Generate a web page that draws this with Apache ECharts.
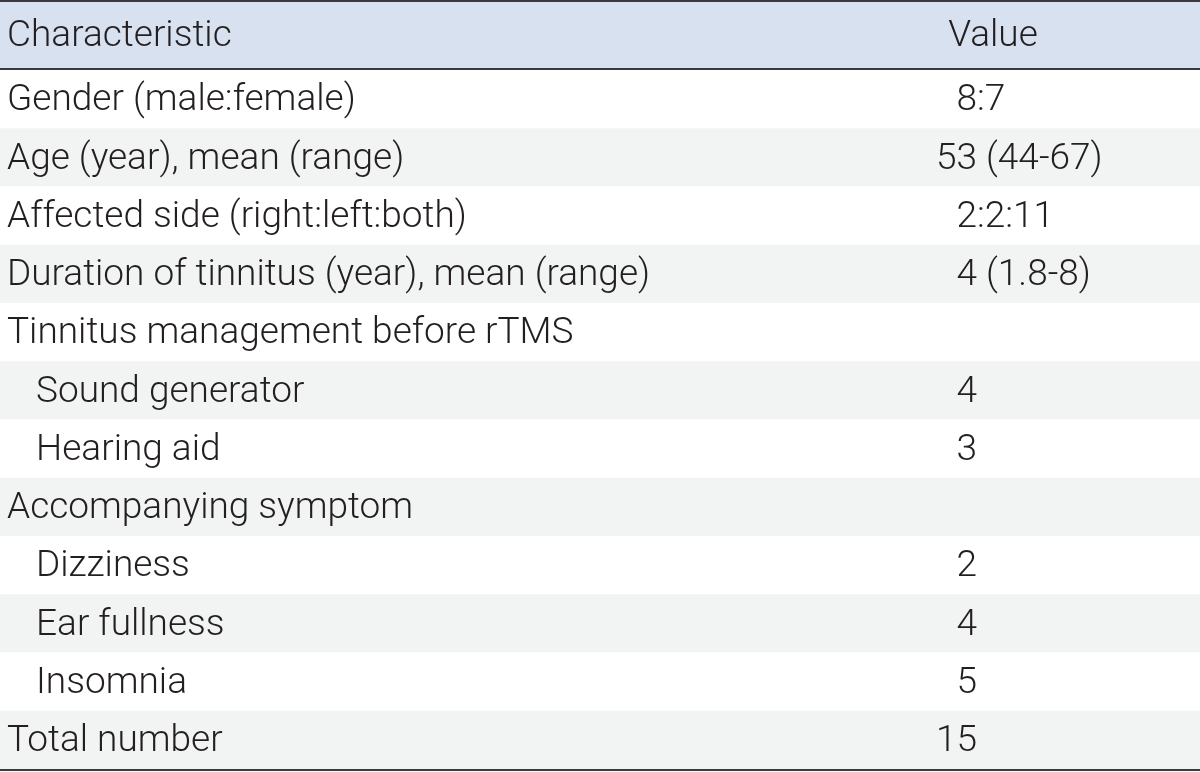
<!DOCTYPE html>
<html>
<head>
<meta charset="utf-8">
<script src="https://cdn.jsdelivr.net/npm/echarts@6/dist/echarts.min.js"></script>
<style>
  html, body { margin: 0; padding: 0; background: #ffffff; }
  #chart { width: 1200px; height: 772px; }
</style>
</head>
<body>
<div id="chart"></div>
<script>
// ---- Table content ----
const headers = ['Characteristic', 'Value'];
const categories = [
  'Gender (male:female)',
  'Age (year), mean (range)',
  'Affected side (right:left:both)',
  'Duration of tinnitus (year), mean (range)',
  'Tinnitus management before rTMS',
  'Sound generator',
  'Hearing aid',
  'Accompanying symptom',
  'Dizziness',
  'Ear fullness',
  'Insomnia',
  'Total number'
];
const values = ['8:7', '53 (44-67)', '2:2:11', '4 (1.8-8)', '', '4', '3', '', '2', '4', '5', '15'];
const indentLevels = [0, 0, 0, 0, 0, 1, 1, 0, 1, 1, 1, 0];

// ---- Styling / layout constants ----
const FONT_FAMILY = 'Roboto, "Liberation Sans", sans-serif';
const FONT_SIZE = 37;
const FONT_WEIGHT = 300;
const TEXT_COLOR = '#231f20';
const HEADER_BG = '#d8e1f0';
const STRIPE_BG = '#f2f3f3';
const RULE_COLOR = '#3a3a3a';
const LABEL_X = 7;
const INDENT_W = 29;
const VALUE_ANCHOR_X = 977;   // right edge of the leading number in the value column
const HEADER_VALUE_CX = 993;
const TEXT_DY = 2;

// measure the leading integer of a value so numbers align on their first figure group
const measureCtx = document.createElement('canvas').getContext('2d');
measureCtx.font = FONT_WEIGHT + ' ' + FONT_SIZE + 'px ' + FONT_FAMILY;
function leadWidth(s) {
  const m = /^\d+/.exec(s);
  return m ? measureCtx.measureText(m[0]).width : 0;
}

const chart = echarts.init(document.getElementById('chart'), null, { renderer: 'canvas' });

function textStyle(extra) {
  return Object.assign({
    fill: TEXT_COLOR,
    fontSize: FONT_SIZE,
    fontFamily: FONT_FAMILY,
    fontWeight: FONT_WEIGHT,
    textVerticalAlign: 'middle'
  }, extra);
}

const option = {
  animation: false,
  backgroundColor: '#ffffff',
  grid: [
    { left: 0, right: 0, top: 2, height: 66 },
    { left: 0, right: 0, top: 70, height: 699 }
  ],
  xAxis: [
    { type: 'value', min: 0, max: 1200, show: false, gridIndex: 0 },
    { type: 'value', min: 0, max: 1200, show: false, gridIndex: 1 }
  ],
  yAxis: [
    { type: 'category', data: ['header'], show: false, gridIndex: 0 },
    { type: 'category', data: categories, inverse: true, show: false, gridIndex: 1 }
  ],
  series: [
    {
      type: 'custom',
      xAxisIndex: 0,
      yAxisIndex: 0,
      data: [[0, 0]],
      renderItem: function (params, api) {
        const c = api.coord([0, 0]);
        const h = api.size([0, 1])[1];
        const xEnd = api.coord([1200, 0])[0];
        const pL = api.coord([LABEL_X, 0]);
        const pV = api.coord([HEADER_VALUE_CX, 0]);
        return {
          type: 'group',
          children: [
            { type: 'rect', shape: { x: c[0], y: c[1] - h / 2, width: xEnd - c[0], height: h }, style: { fill: HEADER_BG } },
            { type: 'text', style: textStyle({ text: headers[0], x: pL[0], y: pL[1] + TEXT_DY, textAlign: 'left' }) },
            { type: 'text', style: textStyle({ text: headers[1], x: pV[0], y: pV[1] + TEXT_DY, textAlign: 'center' }) }
          ]
        };
      }
    },
    {
      type: 'custom',
      xAxisIndex: 1,
      yAxisIndex: 1,
      data: categories.map(function (c, i) { return [0, i]; }),
      renderItem: function (params, api) {
        const i = api.value(1);
        const c = api.coord([0, i]);
        const h = api.size([0, 1])[1];
        const xEnd = api.coord([1200, i])[0];
        const pL = api.coord([LABEL_X + indentLevels[i] * INDENT_W, i]);
        const pV = api.coord([VALUE_ANCHOR_X, i]);
        return {
          type: 'group',
          children: [
            { type: 'rect', shape: { x: c[0], y: c[1] - h / 2, width: xEnd - c[0], height: h }, style: { fill: (i % 2 === 1) ? STRIPE_BG : '#ffffff' } },
            { type: 'text', style: textStyle({ text: categories[i], x: pL[0], y: pL[1] + TEXT_DY, textAlign: 'left' }) },
            { type: 'text', style: textStyle({ text: values[i], x: pV[0] - leadWidth(values[i]), y: pV[1] + TEXT_DY, textAlign: 'left' }) }
          ]
        };
      }
    }
  ],
  graphic: [
    { type: 'rect', left: 0, top: 0, shape: { width: 1200, height: 2 }, style: { fill: RULE_COLOR }, z: 100 },
    { type: 'rect', left: 0, top: 68, shape: { width: 1200, height: 2 }, style: { fill: RULE_COLOR }, z: 100 },
    { type: 'rect', left: 0, top: 769, shape: { width: 1200, height: 2 }, style: { fill: RULE_COLOR }, z: 100 }
  ]
};

chart.setOption(option);
</script>
</body>
</html>
